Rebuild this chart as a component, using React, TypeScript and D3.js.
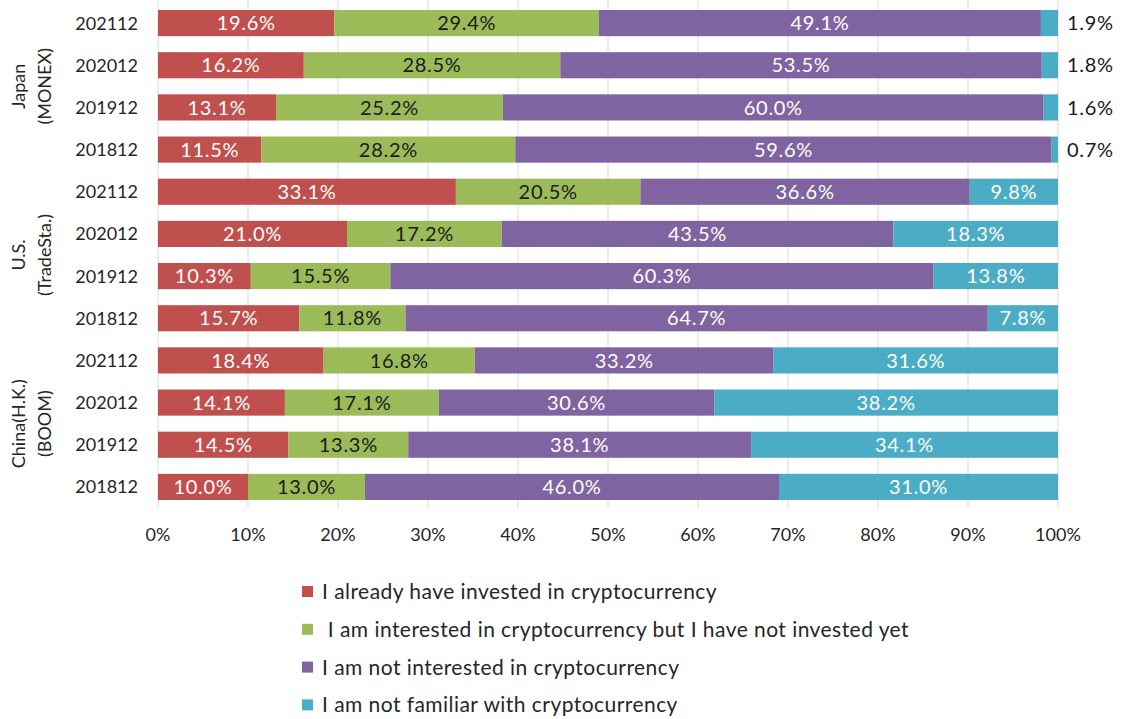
import React from "react";
import * as d3 from "d3";

const rowLabels = [
  "202112", "202012", "201912", "201812",
  "202112", "202012", "201912", "201812",
  "202112", "202012", "201912", "201812",
];
const groups = [
  { lines: ["Japan", "(MONEX)"], rows: [0, 3] },
  { lines: ["U.S.", "(TradeSta.)"], rows: [4, 7] },
  { lines: ["China(H.K.)", "(BOOM)"], rows: [8, 11] },
];
const invested = [19.6, 16.2, 13.1, 11.5, 33.1, 21.0, 10.3, 15.7, 18.4, 14.1, 14.5, 10.0];
const interested = [29.4, 28.5, 25.2, 28.2, 20.5, 17.2, 15.5, 11.8, 16.8, 17.1, 13.3, 13.0];
const notInterested = [49.1, 53.5, 60.0, 59.6, 36.6, 43.5, 60.3, 64.7, 33.2, 30.6, 38.1, 46.0];
const notFamiliar = [1.9, 1.8, 1.6, 0.7, 9.8, 18.3, 13.8, 7.8, 31.6, 38.2, 34.1, 31.0];
const seriesNames = [
  "I already have invested in cryptocurrency",
  " I am interested in cryptocurrency but I have not invested yet",
  "I am not interested in cryptocurrency",
  "I am not familiar with cryptocurrency",
];
const seriesColors = ["#C0504D", "#9BBB59", "#8064A2", "#4BACC6"];
const labelColors = ["#ffffff", "#1a1a1a", "#ffffff", "#ffffff"];
const xTicks = [0, 10, 20, 30, 40, 50, 60, 70, 80, 90, 100];

const FONT = "Lato, 'Open Sans', sans-serif";

export default function App() {
  const W = 1121, H = 719;
  const x = d3.scaleLinear().domain([0, 100]).range([158, 1058]);
  const y = d3.scaleBand<number>().domain(d3.range(12)).range([2, 508]).paddingInner(0.38).paddingOuter(0.19);
  const series = [invested, interested, notInterested, notFamiliar];
  const rows = rowLabels.map((_, i) => {
    const vals = series.map((s) => s[i]);
    const total = d3.sum(vals);
    let acc = 0;
    return vals.map((v, k) => {
      const x0 = (acc / total) * 100;
      acc += v;
      const x1 = (acc / total) * 100;
      return { v, k, x0, x1 };
    });
  });
  const bw = y.bandwidth();
  return (
    <svg width={W} height={H} style={{ position: "absolute", left: 0, top: 0, background: "#fff" }} fontFamily={FONT}>
      {xTicks.map((t) => (
        <line key={t} x1={x(t)} x2={x(t)} y1={0} y2={508} stroke="#d9d9d9" strokeWidth={1} />
      ))}
      {rows.map((segs, i) =>
        segs.map((s) => {
          const x0 = x(s.x0), x1 = x(s.x1);
          const yy = y(i)!;
          const outside = i < 4 && s.k === 3;
          return (
            <g key={`${i}-${s.k}`}>
              <rect x={x0} y={yy} width={x1 - x0} height={bw} fill={seriesColors[s.k]} />
              <text
                x={outside ? x(100) + 9 : (x0 + x1) / 2}
                y={yy + bw / 2}
                dy="0.36em"
                textAnchor={outside ? "start" : "middle"}
                fontSize={20}
                letterSpacing={0.7}
                fill={outside ? "#1a1a1a" : labelColors[s.k]}
              >
                {s.v.toFixed(1)}%
              </text>
            </g>
          );
        })
      )}
      {rowLabels.map((l, i) => (
        <text key={i} x={138} y={y(i)! + bw / 2} dy="0.36em" textAnchor="end" fontSize={18} fill="#262626">
          {l}
        </text>
      ))}
      {groups.map((g, gi) => {
        const cy = (y(g.rows[0])! + y(g.rows[1])! + bw) / 2;
        return (
          <text key={gi} transform={`translate(0,${cy}) rotate(-90)`} textAnchor="middle" fontSize={18} fill="#262626">
            <tspan x={0} y={25}>{g.lines[0]}</tspan>
            <tspan x={0} y={51}>{g.lines[1]}</tspan>
          </text>
        );
      })}
      {xTicks.map((t) => (
        <text key={t} x={x(t)} y={541} textAnchor="middle" fontSize={18} fill="#262626">
          {t}%
        </text>
      ))}
      {seriesNames.map((n, k) => {
        const cy = 591.5 + k * 37.8;
        return (
          <g key={k}>
            <rect x={302} y={cy - 5.5} width={11} height={11} fill={seriesColors[k]} />
            <text x={322} y={cy} dy="0.36em" fontSize={21} letterSpacing={0.45} fill="#262626" style={{ whiteSpace: "pre" }}>
              {n}
            </text>
          </g>
        );
      })}
    </svg>
  );
}
